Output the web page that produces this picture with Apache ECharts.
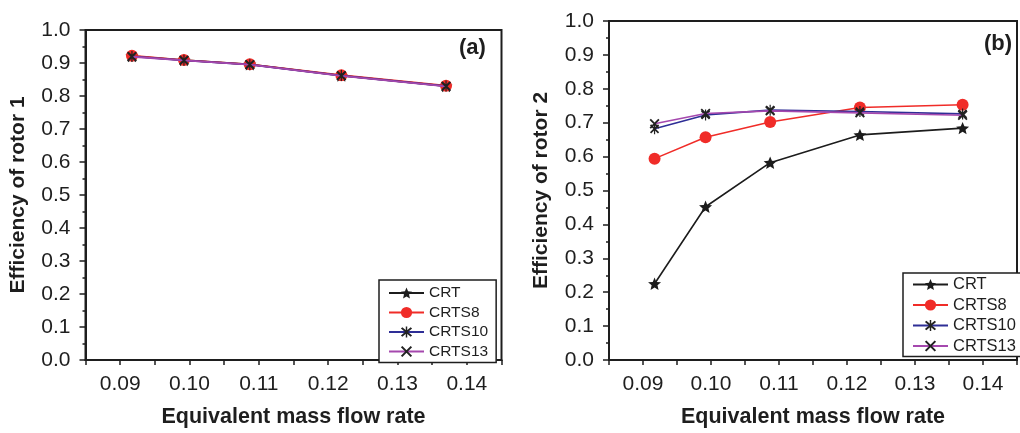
<!DOCTYPE html>
<html>
<head>
<meta charset="utf-8">
<script src="https://cdn.jsdelivr.net/npm/echarts@6/dist/echarts.min.js"></script>
<style>
html,body{margin:0;padding:0;background:#fff;}
#chart{width:1020px;height:433px;}
</style>
</head>
<body>
<div id="chart"></div>
<script>
// ---- data ----
const flowRate = [0.0917, 0.0992, 0.1087, 0.1219, 0.1370];
const seriesNames = ['CRT', 'CRTS8', 'CRTS10', 'CRTS13'];
// rotor 1 efficiency (panel a)
const r1_CRT    = [0.921, 0.909, 0.896, 0.862, 0.830];
const r1_CRTS8  = [0.922, 0.909, 0.896, 0.863, 0.831];
const r1_CRTS10 = [0.920, 0.908, 0.895, 0.862, 0.830];
const r1_CRTS13 = [0.919, 0.908, 0.895, 0.861, 0.829];
// rotor 2 efficiency (panel b)
const r2_CRT    = [0.225, 0.452, 0.582, 0.664, 0.684];
const r2_CRTS8  = [0.594, 0.657, 0.702, 0.745, 0.753];
const r2_CRTS10 = [0.682, 0.723, 0.737, 0.733, 0.726];
const r2_CRTS13 = [0.697, 0.727, 0.735, 0.729, 0.722];
const panelTitles = ['(a)', '(b)'];
const yTitles = ['Efficiency of rotor 1', 'Efficiency of rotor 2'];
const xTitle = 'Equivalent mass flow rate';

// ---- styles ----
const FONT = '"Liberation Sans", Arial, sans-serif';
const INK = '#1e1e1e';
const lineColors = ['#1c1c1c', '#f02c28', '#2e2e96', '#a548ae'];
const markColors = ['#1c1c1c', '#f02c28', '#222222', '#222222'];
const STAR = 'path://M10,0 L12.645,6.359 L19.511,6.910 L14.280,11.391 L15.878,18.090 L10,14.5 L4.122,18.090 L5.720,11.391 L0.489,6.910 L7.355,6.359 Z';
const XMARK = 'path://M0,1.3 L1.3,0 L10,8.7 L8.7,10 Z M8.7,0 L10,1.3 L1.3,10 L0,8.7 Z';
const ASTER = 'path://M0,1.3 L1.3,0 L10,8.7 L8.7,10 Z M8.7,0 L10,1.3 L1.3,10 L0,8.7 Z M4.35,-1 L5.65,-1 L5.65,11 L4.35,11 Z';
const symbols = [STAR, 'circle', ASTER, XMARK];
const symSizes = [13, 12, 11, 10];

const pair = (ys) => flowRate.map((x, i) => [x, ys[i]]);
const panel1 = [r1_CRT, r1_CRTS8, r1_CRTS10, r1_CRTS13];
const panel2 = [r2_CRT, r2_CRTS8, r2_CRTS10, r2_CRTS13];

function xAxisCfg(gi) {
  return {
    type: 'value', gridIndex: gi, min: 0.085, max: 0.145, interval: 0.005,
    name: xTitle, nameLocation: 'middle', nameGap: 46,
    nameTextStyle: {fontFamily: FONT, fontSize: 21.5, fontWeight: 'bold', color: INK},
    axisLine: {show: true, onZero: false, lineStyle: {color: INK, width: 2}},
    axisTick: {show: true, length: 5, lineStyle: {color: INK, width: 1.5}},
    axisLabel: {
      fontFamily: FONT, fontSize: 21, color: INK, margin: 14,
      showMinLabel: true, showMaxLabel: true,
      formatter: (v) => {
        const k = Math.round(v * 1000);
        return (k % 10 === 0) ? (k / 1000).toFixed(2) : '';
      }
    },
    splitLine: {show: false}
  };
}
function yAxisCfg(gi) {
  return {
    type: 'value', gridIndex: gi, min: 0, max: 1, interval: 0.1,
    name: yTitles[gi], nameLocation: 'middle', nameGap: 57, nameRotate: 90,
    nameTextStyle: {fontFamily: FONT, fontSize: 21, fontWeight: 'bold', color: INK},
    axisLine: {show: true, lineStyle: {color: INK, width: 2}},
    axisTick: {show: true, length: 6, lineStyle: {color: INK, width: 1.5}},
    minorTick: {show: true, splitNumber: 2, length: 3, lineStyle: {color: INK, width: 1.5}},
    axisLabel: {fontFamily: FONT, fontSize: 21, color: INK, margin: 15,
      formatter: (v) => v.toFixed(1)},
    splitLine: {show: false}
  };
}
function makeSeries(gi, arrs) {
  return arrs.map((ys, i) => ({
    type: 'line', name: seriesNames[i], xAxisIndex: gi, yAxisIndex: gi,
    data: pair(ys), symbol: symbols[i], symbolSize: symSizes[i], symbolKeepAspect: true,
    showAllSymbol: true,
    lineStyle: {color: lineColors[i], width: gi === 0 ? 1.8 : 1.6},
    itemStyle: {color: markColors[i], borderWidth: 0},
    z: 2 + i
  }));
}
function legendCfg(left, top, fs, gap, pad) {
  return {
    left: left, top: top, orient: 'vertical',
    itemWidth: 35, itemHeight: 14, itemGap: gap,
    borderColor: INK, borderWidth: 1.5, borderRadius: 0,
    padding: pad,
    backgroundColor: '#fff',
    textStyle: {fontFamily: FONT, fontSize: fs, color: INK, lineHeight: 14},
    data: seriesNames.slice()
  };
}

const chart = echarts.init(document.getElementById('chart'), null, {renderer: 'canvas'});
chart.setOption({
  animation: false,
  backgroundColor: '#fff',
  title: [
    {text: panelTitles[0], left: 459, top: 37, textStyle: {fontFamily: FONT, fontSize: 22, fontWeight: 'bold', color: INK}, padding: 0},
    {text: panelTitles[1], left: 984, top: 33, textStyle: {fontFamily: FONT, fontSize: 22, fontWeight: 'bold', color: INK}, padding: 0}
  ],
  grid: [
    {left: 85.5, top: 30, width: 416, height: 334, show: true, borderColor: INK, borderWidth: 2, containLabel: false},
    {left: 609, top: 21, width: 418, height: 342, show: true, borderColor: INK, borderWidth: 2, containLabel: false}
  ],
  xAxis: [xAxisCfg(0), xAxisCfg(1)],
  yAxis: [yAxisCfg(0), yAxisCfg(1)],
  legend: [legendCfg(379, 280, 15.5, 3.5, [5, 8, 3, 9]), legendCfg(903, 273, 16.5, 3.5, [3, 12, 2, 9])],
  series: makeSeries(0, panel1).concat(makeSeries(1, panel2))
});
</script>
</body>
</html>
